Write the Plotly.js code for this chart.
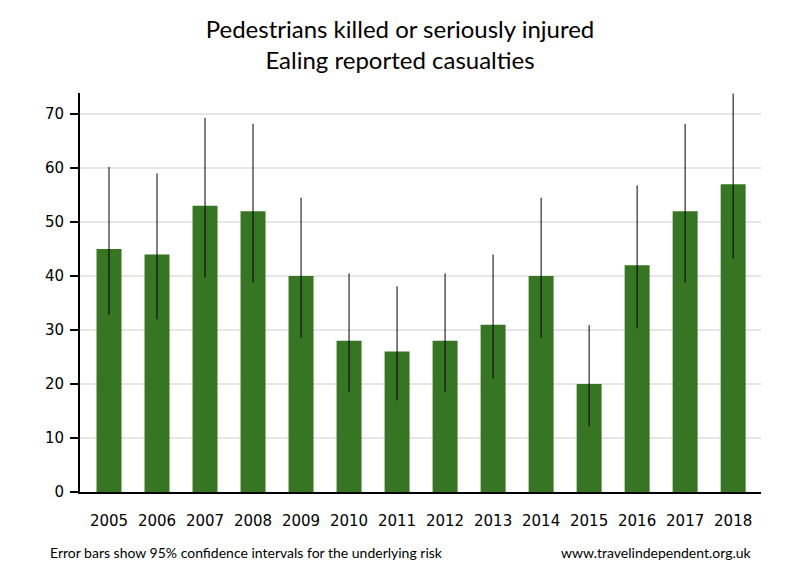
<!DOCTYPE html>
<html><head><meta charset="utf-8">
<script src="https://cdn.plot.ly/plotly-3.0.1.min.js"></script>
<style>body{margin:0;background:#fff}#c{width:800px;height:580px}</style>
</head><body><div id="c"></div>
<script>
const years = ['2005','2006','2007','2008','2009','2010','2011','2012','2013','2014','2015','2016','2017','2018'];
const casualties = [45,44,53,52,40,28,26,28,31,40,20,42,52,57];
const ciLower = [32.8,32.0,39.7,38.8,28.6,18.6,17.0,18.6,21.0,28.6,12.2,30.3,38.8,43.2];
const ciUpper = [60.2,59.0,69.3,68.2,54.5,40.5,38.1,40.5,44.0,54.5,30.9,56.8,68.2,73.8];
const yTicks = [0,10,20,30,40,50,60,70];

const plus = casualties.map((v,i)=>ciUpper[i]-v);
const minus = casualties.map((v,i)=>v-ciLower[i]);

const trace = {
  type:'bar', x: years, y: casualties,
  marker:{color:'#367521'},
  error_y:{type:'data', symmetric:false, array:plus, arrayminus:minus, color:'#000', thickness:1, width:0},
  hoverinfo:'x+y'
};
const layout = {
  width:800, height:580,
  margin:{l:80, r:39, t:93, b:88},
  paper_bgcolor:'#fff', plot_bgcolor:'#fff',
  showlegend:false,
  bargap:0.48,
  title:{text:'Pedestrians killed or seriously injured<br>Ealing reported casualties', x:0.5, xanchor:'center',
    yref:'container', y:1-38/580, yanchor:'top',
    font:{family:'Lato, "Open Sans", sans-serif', size:24, color:'#000'}},
  xaxis:{type:'category', range:[-0.604,13.58], showgrid:false, showline:true, linecolor:'#000', linewidth:2,
    ticks:'outside', ticklen:14, tickcolor:'rgba(0,0,0,0)', zeroline:false,
    tickfont:{family:'"DejaVu Sans", Verdana, sans-serif', size:15, color:'#000'}},
  yaxis:{range:[0,73.9], tickvals:yTicks, ticktext:yTicks.map(String), showgrid:true, gridcolor:'#e6e6e6', gridwidth:2,
    showline:true, linecolor:'#000', linewidth:2, ticks:'outside', ticklen:8, tickwidth:2, tickcolor:'#000', zeroline:false,
    ticklabelstandoff:3,
    tickfont:{family:'"DejaVu Sans", Verdana, sans-serif', size:15, color:'#000'}},
  annotations:[
    {text:'Error bars show 95% confidence intervals for the underlying risk', xref:'paper', yref:'paper', x:-0.047, y:-0.152,
     xanchor:'left', yanchor:'middle', showarrow:false, font:{family:'Lato, "Open Sans", sans-serif', size:14, color:'#000'}},
    {text:'www.travelindependent.org.uk', xref:'paper', yref:'paper', x:0.99, y:-0.152,
     xanchor:'right', yanchor:'middle', showarrow:false, font:{family:'Lato, "Open Sans", sans-serif', size:14, color:'#000'}}
  ]
};
Plotly.newPlot('c',[trace],layout,{displayModeBar:false, staticPlot:true});
</script></body></html>
